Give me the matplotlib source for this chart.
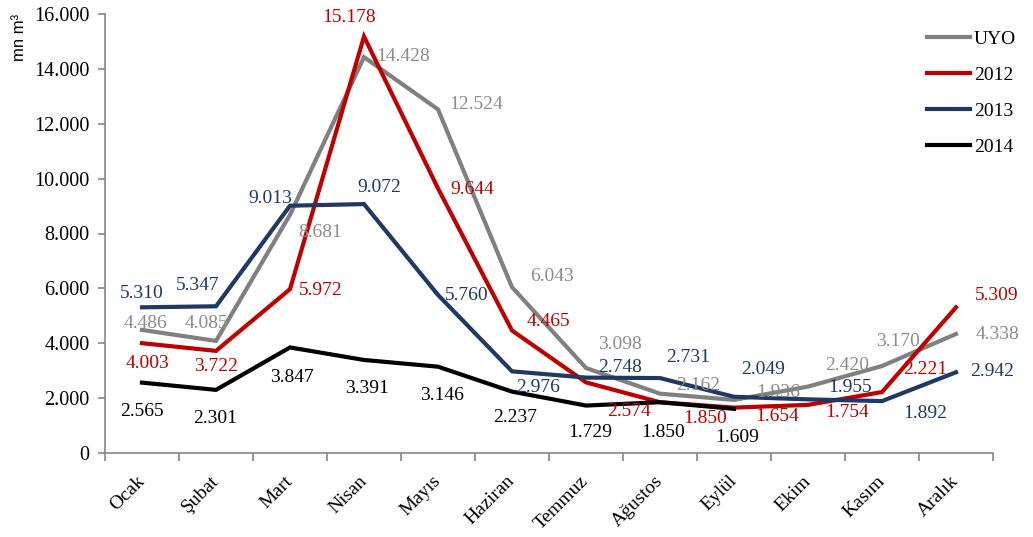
import matplotlib
matplotlib.use("Agg")
import matplotlib.pyplot as plt
import matplotlib.transforms as mtransforms
import numpy as np

# Data
#--------------------------------------------------------------------------
months = ["Ocak", "Şubat", "Mart", "Nisan", "Mayıs", "Haziran",
          "Temmuz", "Ağustos", "Eylül", "Ekim", "Kasım", "Aralık"]

uyo = [4486, 4085, 8681, 14428, 12524, 6043, 3098, 2162, 1936, 2420, 3170, 4338]
y2012 = [4003, 3722, 5972, 15178, 9644, 4465, 2574, 1850, 1654, 1754, 2221, 5309]
y2013 = [5310, 5347, 9013, 9072, 5760, 2976, 2748, 2731, 2049, 1955, 1892, 2942]
y2014 = [2565, 2301, 3847, 3391, 3146, 2237, 1729, 1850, 1609]

series_names = ["UYO", "2012", "2013", "2014"]

# Styles
#--------------------------------------------------------------------------
line_colors = ["#808080", "#C00000", "#1F3864", "#000000"]
text_colors = ["#8C8C8C", "#C00000", "#1F3864", "#000000"]

# label offsets in pixels (dx, dy) relative to each point
label_offsets = [
    [(3, 6), (-10, 17), (30, -18), (39, 1), (38, 5), (40, 11),
     (34, 23), (38, 8), (44, 7), (39, 21), (16, 25), (41, -1)],
    [(5, -20), (0, -16), (31, -1), (-15, 19), (34, -1), (36, 9),
     (43, -29), (45, -16), (43, -9), (39, -8), (43, 23), (41, 12)],
    [(0, 14), (-18, 21), (-20, 7), (15, 17), (29, -1), (26, -16),
     (34, 10), (28, 21), (29, 27), (42, 12), (43, -12), (36, 1)],
    [(0, -29), (-1, -29), (2, -30), (3, -29), (4, -29), (3, -26),
     (4, -27), (3, -30), (3, -29)],
]

serif = ["Liberation Serif", "DejaVu Serif"]
plt.rcParams["font.family"] = serif


def fmt(v):
    return f"{v:,}".replace(",", ".")


fig = plt.figure(figsize=(10.33, 5.37), dpi=100)
ax = fig.add_axes([105 / 1033, 1 - 453 / 537, 888 / 1033, 439 / 537])

all_series = [uyo, y2012, y2013, y2014]
for vals, name, lc, tc, offs in zip(all_series, series_names, line_colors,
                                    text_colors, label_offsets):
    x = np.arange(len(vals))
    ax.plot(x, vals, color=lc, lw=3, label=name, solid_joinstyle="miter")
    for xi, v, (dx, dy) in zip(x, vals, offs):
        ax.annotate(fmt(v), (xi, v), xytext=(dx, dy), textcoords="offset pixels",
                    ha="center", va="center", color=tc, fontsize=14)

ax.set_xlim(-0.5, 11.5)
ax.set_ylim(0, 16000)
ax.set_yticks(np.arange(0, 16001, 2000))
ax.set_yticklabels([fmt(v) for v in range(0, 16001, 2000)], fontsize=14.5)

ax.set_xticks(np.arange(12))
ax.set_xticks(np.arange(-0.5, 12, 1), minor=True)
ax.tick_params(axis="x", which="major", length=0, pad=14)
ax.tick_params(axis="x", which="minor", length=6, color="#868686", width=1.2)
ax.tick_params(axis="y", length=5, color="#868686", width=1.2, pad=6)
ax.set_xticklabels(months, rotation=45, ha="right", va="top", fontsize=14)
shift = mtransforms.ScaledTranslation(6 / 100, 0, fig.dpi_scale_trans)
for lab in ax.get_xticklabels():
    lab.set_transform(lab.get_transform() + shift)

for side in ["top", "right"]:
    ax.spines[side].set_visible(False)
for side in ["left", "bottom"]:
    ax.spines[side].set_color("#868686")
    ax.spines[side].set_linewidth(1.2)

fig.text(20 / 1033, 1 - 14 / 537, "mn m³", rotation=90, ha="center", va="top",
         fontsize=12, family=["Liberation Sans", "DejaVu Sans"])

fig.legend(loc="upper left", bbox_to_anchor=(927 / 1033, 1 - 30 / 537),
           frameon=False, fontsize=14, handlelength=2.2, handletextpad=0.2,
           labelspacing=0.95, borderpad=0, borderaxespad=0)

fig.savefig("out.png", dpi=100)
